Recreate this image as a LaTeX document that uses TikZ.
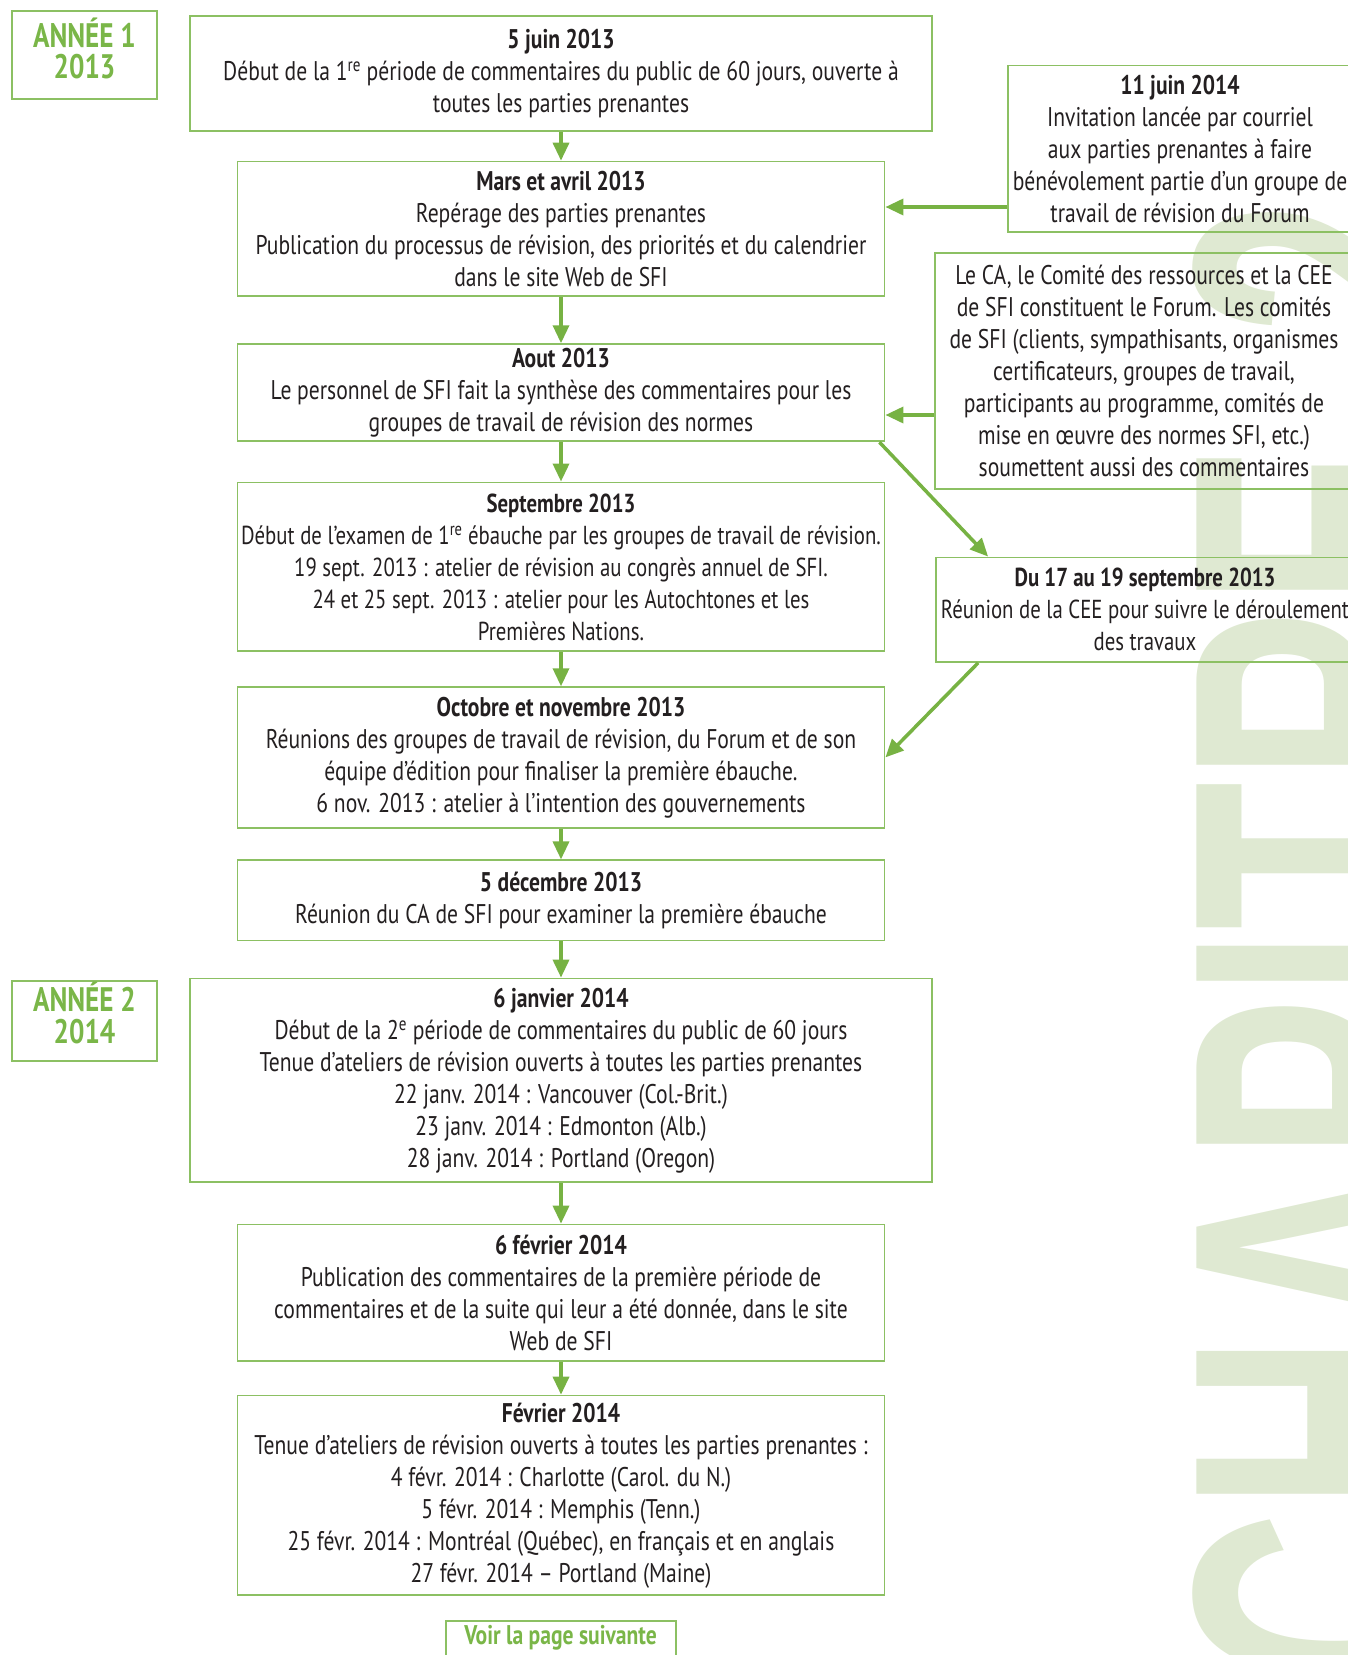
\documentclass[tikz,border=0pt]{standalone}
\usepackage{fontspec}
\setmainfont{PT Sans}[FakeStretch=0.8]
\newfontfamily\wmfont{Liberation Sans}[FakeStretch=0.6]
\usepackage{tikz}
\usetikzlibrary{arrows.meta,positioning,calc}
\definecolor{boxgreen}{HTML}{8CC063}
\definecolor{arrowgreen}{HTML}{77B243}
\definecolor{yeargreen}{HTML}{7AB648}
\definecolor{wmgreen}{HTML}{DFE9D2}
\definecolor{textblack}{HTML}{231F20}
\edef\widebox{742pt}
\edef\mainbox{647pt}
\edef\sidebox{418pt}
\tikzstyle{evbox}=[draw=boxgreen,line width=1.8pt,align=center,inner sep=0pt,text=textblack,font=\fontsize{27}{32}\selectfont]
\tikzstyle{tightbox}=[evbox,font=\fontsize{26}{32}\selectfont]
\tikzstyle{yearbox}=[evbox,text=yeargreen,font=\bfseries\fontsize{34}{31.5}\selectfont,minimum width=145.7pt]
\tikzstyle{flow}=[arrowgreen,line width=3.5pt,-{Triangle[length=18pt,width=16pt]}]

\begin{document}
\begin{tikzpicture}[x=1pt,y=-1pt]
		\useasboundingbox (0,0) rectangle (1348,1655);
		\clip (0,0) rectangle (1348,1655);
		\node[rotate=90,anchor=base east,inner sep=0pt,text=wmgreen,font=\wmfont\bfseries\fontsize{405}{405}\selectfont] (wm) at (1475,200) {CHAPITRE\hspace{109pt}2};

		\node[yearbox,text height=67.9pt,text depth=20.7pt] (y1) at (84.5,54.9) {ANNÉE 1\\2013};
		\node[yearbox,text height=62.7pt,text depth=17.6pt] (y2) at (84.5,1020.8) {ANNÉE 2\\2014};

		\node[evbox,minimum width=\widebox,minimum height=115.1pt] (jun5) at (561,73.4) {\textbf{5 juin 2013}\\Début de la 1\textsuperscript{re} période de commentaires du public de 60 jours, ouverte à\\toutes les parties prenantes};
		\node[evbox,minimum width=\mainbox,minimum height=134.1pt] (mars) at (561,228.6) {\textbf{Mars et avril 2013}\\Repérage des parties prenantes\\Publication du processus de révision, des priorités et du calendrier\\dans le site Web de SFI};
		\node[evbox,minimum width=\mainbox,minimum height=97.1pt] (aout) at (561,392.7) {\textbf{Aout 2013}\\Le personnel de SFI fait la synthèse des commentaires pour les\\groupes de travail de révision des normes};
		\node[tightbox,minimum width=\mainbox,minimum height=168.9pt] (sept) at (561,566.9) {\textbf{Septembre 2013}\\Début de l’examen de 1\textsuperscript{re} ébauche par les groupes de travail de révision.\\19 sept. 2013 : atelier de révision au congrès annuel de SFI.\\24 et 25 sept. 2013 : atelier pour les Autochtones et les\\Premières Nations.};
		\node[evbox,minimum width=\mainbox,minimum height=140.4pt] (octnov) at (561,757.4) {\textbf{Octobre et novembre 2013}\\Réunions des groupes de travail de révision, du Forum et de son\\équipe d’édition pour finaliser la première ébauche.\\6 nov. 2013 : atelier à l’intention des gouvernements};
		\node[evbox,minimum width=\mainbox,minimum height=80.2pt] (dec) at (561,900.4) {\textbf{5 décembre 2013}\\Réunion du CA de SFI pour examiner la première ébauche};
		\node[evbox,minimum width=\widebox,minimum height=203.8pt] (janv) at (561,1080.4) {\textbf{6 janvier 2014}\\Début de la 2\textsuperscript{e} période de commentaires du public de 60 jours\\Tenue d’ateliers de révision ouverts à toutes les parties prenantes\\22 janv. 2014 : Vancouver (Col.-Brit.)\\23 janv. 2014 : Edmonton (Alb.)\\28 janv. 2014 : Portland (Oregon)};
		\node[evbox,minimum width=\mainbox,minimum height=136.2pt] (fev6) at (561,1292.6) {\textbf{6 février 2014}\\Publication des commentaires de la première période de\\commentaires et de la suite qui leur a été donnée, dans le site\\Web de SFI};
		\node[evbox,minimum width=\mainbox,minimum height=199.5pt] (fev) at (561,1495.3) {\textbf{Février 2014}\\Tenue d’ateliers de révision ouverts à toutes les parties prenantes :\\4 févr. 2014 : Charlotte (Carol. du N.)\\5 févr. 2014 : Memphis (Tenn.)\\25 févr. 2014 : Montréal (Québec), en français et en anglais\\27 févr. 2014 – Portland (Maine)};
		\node[evbox,anchor=north,minimum width=230pt,text height=24pt,text depth=25pt,text=yeargreen,font=\bfseries\fontsize{27}{32}\selectfont] (voir) at (560.6,1620) {Voir la page suivante};

		\node[evbox,minimum width=344pt,minimum height=166.8pt] (juin11) at (1180,148.8) {\textbf{11 juin 2014}\\Invitation lancée par courriel\\aux parties prenantes à faire\\bénévolement partie d’un groupe de\\travail de révision du Forum};
		\node[evbox,minimum width=\sidebox,minimum height=235.4pt] (leca) at (1144,371) {Le CA, le Comité des ressources et la CEE\\de SFI constituent le Forum. Les comités\\de SFI (clients, sympathisants, organismes\\certificateurs, groupes de travail,\\participants au programme, comités de\\mise en œuvre des normes SFI, etc.)\\soumettent aussi des commentaires};
		\node[tightbox,minimum width=\sidebox,minimum height=104.5pt] (du17) at (1145,609.7) {\textbf{Du 17 au 19 septembre 2013}\\Réunion de la CEE pour suivre le déroulement\\des travaux};

		\draw[flow] (jun5.south) -- (mars.north);
		\draw[flow] (mars.south) -- (aout.north);
		\draw[flow] (aout.south) -- (sept.north);
		\draw[flow] (sept.south) -- (octnov.north);
		\draw[flow] (octnov.south) -- (dec.north);
		\draw[flow] (dec.south) -- (janv.north);
		\draw[flow] (janv.south) -- (fev6.north);
		\draw[flow] (fev6.south) -- (fev.north);
		\draw[flow] (juin11.west |- 0,207) -- (mars.east |- 0,207);
		\draw[flow] (leca.west |- 0,415) -- (aout.east |- 0,415);
		\draw[flow] ([xshift=-6pt]aout.south east) -- ([xshift=53pt]du17.north west);
		\draw[flow] ([xshift=43pt]du17.south west) -- (octnov.east);
\end{tikzpicture}
\end{document}
